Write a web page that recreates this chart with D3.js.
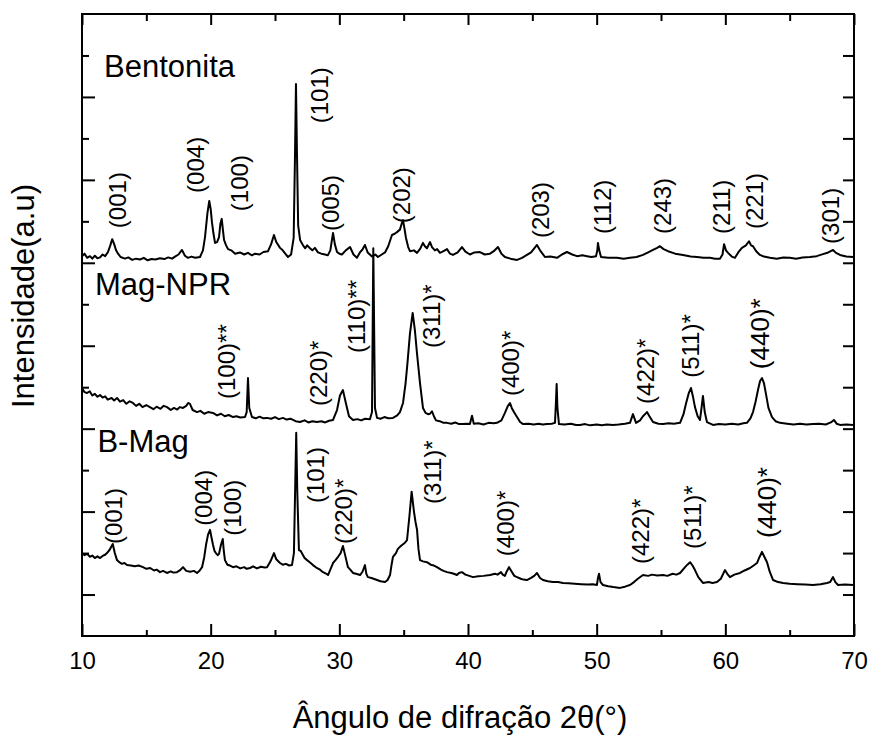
<!DOCTYPE html>
<html>
<head>
<meta charset="utf-8">
<script src="https://cdn.jsdelivr.net/npm/d3@7"></script>
<style>
  body { margin: 0; background: #fff; }
  text { font-family: Arial, "Liberation Sans", sans-serif; fill: #000; }
</style>
</head>
<body>
<div id="chart"></div>
<script>
// 2theta (deg), intensity (a.u., stacked)
const bentonita = [[10.0,9.16],[10.2,9.22],[10.4,9.12],[10.62,9.16],[10.8,9.1],[11.0,9.17],[11.2,9.11],[11.4,9.13],[11.6,9.2],[11.8,9.16],[12.02,9.26],[12.2,9.42],[12.35,9.57],[12.5,9.45],[12.65,9.3],[12.8,9.22],[13.0,9.14],[13.34,9.1],[13.6,9.13],[13.9,9.07],[14.2,9.1],[14.51,9.08],[14.8,9.12],[15.1,9.06],[15.4,9.09],[15.7,9.08],[16.06,9.11],[16.4,9.09],[16.7,9.13],[17.0,9.1],[17.23,9.15],[17.5,9.2],[17.77,9.31],[18.0,9.17],[18.24,9.12],[18.5,9.15],[18.8,9.12],[19.17,9.14],[19.4,9.3],[19.56,9.62],[19.75,10.2],[19.89,10.49],[20.0,10.3],[20.10,9.98],[20.22,9.7],[20.34,9.48],[20.5,9.5],[20.65,9.62],[20.76,9.95],[20.86,10.06],[20.95,9.8],[21.04,9.55],[21.2,9.42],[21.35,9.33],[21.6,9.3],[21.9,9.22],[22.28,9.25],[22.6,9.2],[22.9,9.24],[23.2,9.18],[23.45,9.22],[23.8,9.2],[24.1,9.26],[24.46,9.28],[24.7,9.45],[24.92,9.67],[25.1,9.5],[25.39,9.36],[25.6,9.3],[25.8,9.22],[26.01,9.14],[26.25,9.2],[26.45,9.6],[26.55,11.5],[26.63,13.31],[26.71,11.6],[26.8,9.9],[26.95,9.55],[27.18,9.42],[27.35,9.35],[27.5,9.42],[27.72,9.35],[27.9,9.3],[28.1,9.36],[28.34,9.25],[28.6,9.22],[28.89,9.2],[29.1,9.18],[29.3,9.3],[29.51,9.72],[29.65,9.45],[29.82,9.26],[30.0,9.22],[30.2,9.2],[30.5,9.3],[30.83,9.38],[31.1,9.2],[31.37,9.12],[31.6,9.25],[31.8,9.32],[31.99,9.43],[32.2,9.25],[32.54,9.15],[32.8,9.2],[33.0,9.14],[33.3,9.2],[33.55,9.25],[33.8,9.4],[34.09,9.67],[34.3,9.7],[34.48,9.74],[34.71,9.8],[34.85,9.95],[34.95,10.03],[35.05,9.85],[35.18,9.6],[35.35,9.38],[35.49,9.28],[35.8,9.3],[36.04,9.24],[36.3,9.35],[36.5,9.48],[36.65,9.4],[36.81,9.35],[37.05,9.5],[37.2,9.38],[37.43,9.3],[37.6,9.33],[37.82,9.24],[38.1,9.28],[38.37,9.33],[38.6,9.22],[38.83,9.19],[39.2,9.25],[39.53,9.38],[39.8,9.27],[40.15,9.2],[40.5,9.25],[40.93,9.26],[41.3,9.2],[41.71,9.22],[42.0,9.28],[42.33,9.38],[42.6,9.22],[42.87,9.14],[43.3,9.1],[43.81,9.07],[44.2,9.12],[44.58,9.19],[44.9,9.25],[45.15,9.35],[45.36,9.43],[45.6,9.3],[45.98,9.14],[46.4,9.15],[46.92,9.12],[47.3,9.2],[47.69,9.26],[48.1,9.2],[48.47,9.16],[48.9,9.18],[49.25,9.16],[49.6,9.14],[49.95,9.16],[50.05,9.3],[50.10,9.48],[50.2,9.3],[50.34,9.14],[50.9,9.12],[51.58,9.12],[52.1,9.1],[52.59,9.12],[53.1,9.14],[53.6,9.19],[54.0,9.25],[54.38,9.31],[54.7,9.36],[54.92,9.40],[55.2,9.33],[55.55,9.28],[56.1,9.22],[56.71,9.19],[57.3,9.15],[57.80,9.14],[58.3,9.12],[58.81,9.12],[59.2,9.1],[59.58,9.1],[59.78,9.2],[59.90,9.45],[60.05,9.3],[60.21,9.24],[60.5,9.15],[60.75,9.12],[61.0,9.25],[61.29,9.36],[61.6,9.42],[61.84,9.52],[62.0,9.42],[62.15,9.4],[62.4,9.28],[62.69,9.19],[63.0,9.15],[63.47,9.12],[64.0,9.1],[64.5,9.13],[65.02,9.12],[65.5,9.1],[66.0,9.13],[66.58,9.14],[67.1,9.16],[67.59,9.21],[68.0,9.25],[68.37,9.31],[68.6,9.24],[68.91,9.19],[69.4,9.15],[69.92,9.14]];

const magNPR = [[10.0,5.98],[10.2,5.88],[10.39,5.86],[10.6,5.9],[10.8,5.8],[11.0,5.84],[11.2,5.77],[11.4,5.81],[11.6,5.75],[11.8,5.78],[12.0,5.7],[12.3,5.74],[12.5,5.68],[12.72,5.74],[12.95,5.65],[13.2,5.69],[13.45,5.6],[13.7,5.66],[13.96,5.62],[14.2,5.55],[14.45,5.6],[14.7,5.52],[15.0,5.57],[15.28,5.52],[15.55,5.47],[15.8,5.53],[16.1,5.48],[16.35,5.55],[16.61,5.52],[16.9,5.45],[17.15,5.5],[17.4,5.46],[17.6,5.52],[17.85,5.50],[18.1,5.55],[18.25,5.62],[18.39,5.6],[18.6,5.45],[18.94,5.40],[19.2,5.43],[19.5,5.36],[19.8,5.4],[20.18,5.38],[20.5,5.32],[20.8,5.36],[21.1,5.3],[21.4,5.33],[21.74,5.28],[22.0,5.3],[22.3,5.27],[22.67,5.28],[22.8,5.4],[22.90,6.22],[23.0,5.5],[23.21,5.28],[23.5,5.25],[23.8,5.29],[24.1,5.25],[24.38,5.26],[24.7,5.24],[25.0,5.28],[25.3,5.23],[25.62,5.26],[25.9,5.22],[26.2,5.24],[26.6,5.18],[26.94,5.16],[27.3,5.2],[27.6,5.15],[27.9,5.18],[28.26,5.16],[28.6,5.18],[28.9,5.15],[29.2,5.19],[29.51,5.21],[29.82,5.45],[30.05,5.8],[30.28,5.93],[30.52,5.6],[30.75,5.3],[31.06,5.21],[31.4,5.23],[31.7,5.2],[32.0,5.24],[32.38,5.23],[32.54,5.4],[32.64,9.35],[32.77,5.5],[32.93,5.26],[33.2,5.24],[33.5,5.28],[33.8,5.25],[34.17,5.26],[34.5,5.32],[34.71,5.4],[34.95,5.62],[35.15,6.1],[35.3,6.6],[35.49,7.3],[35.70,7.79],[35.88,7.35],[36.04,6.8],[36.27,6.1],[36.5,5.5],[36.7,5.38],[36.89,5.35],[37.05,5.36],[37.20,5.42],[37.35,5.3],[37.51,5.2],[37.8,5.18],[38.1,5.14],[38.37,5.14],[38.7,5.12],[39.0,5.15],[39.3,5.11],[39.61,5.11],[39.9,5.12],[40.15,5.11],[40.31,5.31],[40.45,5.12],[40.8,5.13],[41.2,5.1],[41.6,5.14],[42.0,5.13],[42.25,5.14],[42.6,5.2],[42.87,5.38],[43.1,5.55],[43.26,5.62],[43.4,5.5],[43.57,5.4],[43.81,5.28],[44.05,5.16],[44.28,5.11],[44.7,5.12],[45.1,5.1],[45.5,5.12],[45.8,5.1],[46.14,5.11],[46.5,5.12],[46.76,5.14],[46.83,5.6],[46.89,6.08],[46.95,5.5],[47.07,5.11],[47.5,5.1],[48.0,5.12],[48.4,5.09],[48.70,5.09],[49.1,5.11],[49.5,5.08],[50.0,5.1],[50.4,5.08],[50.8,5.1],[51.27,5.09],[51.7,5.1],[52.2,5.12],[52.59,5.14],[52.82,5.35],[53.06,5.14],[53.37,5.2],[53.6,5.3],[53.91,5.40],[54.1,5.3],[54.38,5.16],[54.8,5.12],[55.16,5.11],[55.6,5.13],[56.0,5.12],[56.48,5.14],[56.75,5.35],[56.94,5.6],[57.15,5.85],[57.33,5.98],[57.5,5.75],[57.64,5.52],[57.85,5.3],[58.03,5.21],[58.15,5.5],[58.26,5.79],[58.4,5.4],[58.57,5.16],[59.04,5.09],[59.5,5.11],[60.0,5.1],[60.5,5.12],[61.0,5.1],[61.4,5.13],[61.68,5.14],[61.95,5.25],[62.15,5.4],[62.35,5.65],[62.55,5.95],[62.7,6.15],[62.85,6.22],[63.0,6.1],[63.15,5.85],[63.35,5.5],[63.63,5.28],[63.9,5.18],[64.25,5.14],[64.8,5.12],[65.3,5.1],[65.8,5.12],[66.3,5.1],[66.81,5.11],[67.3,5.12],[67.8,5.1],[68.2,5.15],[68.44,5.21],[68.65,5.12],[68.91,5.09],[69.4,5.1],[69.92,5.09]];

const bMag = [[10.0,2.00],[10.2,1.95],[10.4,1.98],[10.62,1.91],[10.8,1.94],[11.0,1.88],[11.2,1.92],[11.4,1.88],[11.6,1.93],[11.8,1.96],[11.94,2.0],[12.15,2.08],[12.39,2.22],[12.55,2.0],[12.72,1.83],[12.9,1.78],[13.1,1.74],[13.3,1.76],[13.50,1.71],[13.8,1.7],[14.1,1.68],[14.4,1.7],[14.74,1.66],[15.0,1.62],[15.3,1.64],[15.6,1.58],[15.8,1.6],[16.06,1.54],[16.3,1.57],[16.6,1.52],[16.9,1.56],[17.1,1.53],[17.38,1.54],[17.6,1.58],[17.85,1.66],[18.1,1.57],[18.4,1.55],[18.7,1.57],[18.94,1.52],[19.15,1.58],[19.33,1.66],[19.5,1.9],[19.64,2.2],[19.8,2.45],[19.95,2.56],[20.05,2.4],[20.18,2.2],[20.3,2.05],[20.41,2.0],[20.55,1.95],[20.65,1.98],[20.8,2.2],[20.94,2.34],[21.02,2.05],[21.11,1.83],[21.3,1.72],[21.5,1.7],[21.74,1.66],[22.0,1.68],[22.3,1.63],[22.6,1.66],[22.8,1.62],[23.06,1.64],[23.3,1.68],[23.6,1.63],[23.9,1.67],[24.2,1.65],[24.38,1.66],[24.65,1.8],[24.92,2.00],[25.1,1.85],[25.39,1.76],[25.6,1.72],[25.85,1.74],[26.1,1.7],[26.32,1.71],[26.47,2.0],[26.57,3.6],[26.65,4.90],[26.73,3.5],[26.86,2.07],[27.0,2.05],[27.18,1.95],[27.3,1.88],[27.49,1.83],[27.7,1.78],[27.95,1.71],[28.2,1.65],[28.5,1.6],[28.73,1.54],[29.0,1.5],[29.12,1.47],[29.3,1.6],[29.51,1.76],[29.7,1.83],[29.90,1.91],[30.1,2.0],[30.28,2.17],[30.45,1.95],[30.67,1.66],[30.85,1.6],[31.06,1.52],[31.3,1.5],[31.61,1.47],[31.8,1.55],[31.99,1.71],[32.1,1.5],[32.22,1.42],[32.5,1.4],[32.93,1.35],[33.2,1.32],[33.55,1.30],[33.75,1.35],[33.94,1.47],[34.05,1.7],[34.17,1.91],[34.4,2.0],[34.55,2.1],[34.71,2.15],[34.9,2.2],[35.1,2.25],[35.26,2.31],[35.45,2.9],[35.62,3.48],[35.8,3.0],[35.92,2.75],[36.04,2.56],[36.15,2.1],[36.27,1.83],[36.5,1.8],[36.81,1.78],[37.1,1.72],[37.35,1.7],[37.59,1.66],[37.9,1.6],[38.1,1.57],[38.37,1.54],[38.7,1.52],[38.9,1.5],[39.14,1.47],[39.3,1.52],[39.53,1.54],[39.8,1.48],[40.1,1.45],[40.39,1.42],[40.8,1.44],[41.2,1.45],[41.71,1.47],[42.1,1.5],[42.3,1.48],[42.56,1.54],[42.7,1.48],[42.87,1.45],[43.0,1.55],[43.19,1.66],[43.4,1.55],[43.6,1.45],[43.81,1.42],[44.1,1.38],[44.3,1.36],[44.58,1.35],[44.9,1.4],[45.15,1.45],[45.36,1.52],[45.6,1.4],[45.83,1.35],[46.2,1.32],[46.6,1.3],[47.0,1.3],[47.38,1.28],[47.8,1.27],[48.3,1.26],[48.8,1.25],[49.3,1.24],[49.7,1.25],[50.02,1.23],[50.1,1.4],[50.18,1.50],[50.3,1.3],[50.49,1.23],[50.9,1.2],[51.3,1.18],[51.81,1.16],[52.2,1.19],[52.59,1.23],[52.9,1.3],[53.2,1.38],[53.6,1.47],[54.0,1.45],[54.3,1.48],[54.7,1.46],[55.16,1.47],[55.5,1.45],[55.9,1.5],[56.2,1.48],[56.48,1.52],[56.65,1.58],[56.87,1.66],[57.05,1.72],[57.26,1.78],[57.45,1.7],[57.64,1.59],[57.9,1.42],[58.26,1.28],[58.7,1.3],[59.0,1.28],[59.35,1.30],[59.65,1.38],[59.97,1.59],[60.15,1.5],[60.36,1.42],[60.7,1.48],[61.14,1.52],[61.5,1.58],[61.92,1.64],[62.2,1.7],[62.46,1.76],[62.65,1.9],[62.85,2.03],[63.05,1.9],[63.24,1.78],[63.45,1.55],[63.71,1.35],[64.1,1.3],[64.49,1.28],[65.0,1.26],[65.6,1.25],[66.2,1.24],[66.81,1.23],[67.4,1.25],[67.90,1.28],[68.15,1.3],[68.37,1.42],[68.55,1.3],[68.76,1.23],[69.3,1.24],[69.92,1.23]];

// sample names: [name, 2theta, intensity]
const sampleNames = [["Bentonita", 11.71, 13.48], ["Mag-NPR", 11.01, 8.22], ["B-Mag", 11.2, 4.44]];

// peak labels: [text, 2theta (center), intensity (bottom of label)]
const bentLabels = [["(001)",12.95,9.86],["(004)",19.02,10.71],["(100)",22.43,10.27],["(101)",28.65,12.39],["(005)",29.51,9.79],["(202)",35.03,9.98],["(203)",45.83,9.62],["(112)",50.65,9.72],["(243)",55.31,9.72],["(211)",59.90,9.72],["(221)",62.46,9.84],["(301)",68.37,9.48]];
const magLabels = [["(100)**",21.42,5.74],["(220)*",28.57,5.57],["(110)**",31.53,6.85],["(311)*",37.36,6.97],["(400)*",43.50,5.81],["(422)*",53.99,5.62],["(511)*",57.49,6.25],["(440)*",62.93,6.46]];
const bMagLabels = [["(001)",12.64,2.24],["(004)",19.64,2.68],["(100)",21.89,2.44],["(101)",28.34,3.23],["(220)*",30.52,2.24],["(311)*",37.43,3.21],["(400)*",43.11,1.95],["(422)*",53.60,1.76],["(511)*",57.64,2.12],["(440)*",63.47,2.39]];

const xMajor = [10, 20, 30, 40, 50, 60, 70];
const xMinor = [15, 25, 35, 45, 55, 65];
const yMajor = [1, 3, 5, 7, 9, 11, 13];
const yMinor = [2, 4, 6, 8, 10, 12, 14];

const width = 869, height = 736;
const mLeft = 82, mRight = 854, mTop = 14, mBottom = 636;

const svg = d3.select("#chart").append("svg")
    .attr("width", width)
    .attr("height", height);

const x = d3.scaleLinear().domain([10, 70]).range([mLeft, mRight]);
const y = d3.scaleLinear().domain([0, 15]).range([mBottom, mTop]);

function styleAxis(g, fontSize) {
    g.select(".domain").remove();
    g.selectAll(".tick line").attr("stroke", "#000").attr("stroke-width", 2);
    g.selectAll(".tick text").attr("font-size", fontSize).attr("fill", "#000")
        .attr("font-family", "Arial, 'Liberation Sans', sans-serif");
}

// bottom
svg.append("g").attr("transform", `translate(0,${mBottom})`)
    .call(d3.axisBottom(x).tickValues(xMajor).tickSize(-12).tickPadding(16).tickFormat(d3.format("d")))
    .call(g => styleAxis(g, 24));
svg.append("g").attr("transform", `translate(0,${mBottom})`)
    .call(d3.axisBottom(x).tickValues(xMinor).tickSize(-6).tickFormat(""))
    .call(g => styleAxis(g, 0));
// top
svg.append("g").attr("transform", `translate(0,${mTop})`)
    .call(d3.axisTop(x).tickValues(xMajor).tickSize(-11).tickFormat(""))
    .call(g => styleAxis(g, 0));
svg.append("g").attr("transform", `translate(0,${mTop})`)
    .call(d3.axisTop(x).tickValues(xMinor).tickSize(-7).tickFormat(""))
    .call(g => styleAxis(g, 0));
// left
svg.append("g").attr("transform", `translate(${mLeft},0)`)
    .call(d3.axisLeft(y).tickValues(yMajor).tickSize(-13).tickFormat(""))
    .call(g => styleAxis(g, 0));
svg.append("g").attr("transform", `translate(${mLeft},0)`)
    .call(d3.axisLeft(y).tickValues(yMinor).tickSize(-7).tickFormat(""))
    .call(g => styleAxis(g, 0));
// right
svg.append("g").attr("transform", `translate(${mRight},0)`)
    .call(d3.axisRight(y).tickValues(yMajor.concat(yMinor)).tickSize(-11).tickFormat(""))
    .call(g => styleAxis(g, 0));

// frame
svg.append("rect")
    .attr("x", mLeft).attr("y", mTop)
    .attr("width", mRight - mLeft).attr("height", mBottom - mTop)
    .attr("fill", "none").attr("stroke", "#000").attr("stroke-width", 2);

// traces
const line = d3.line().x(d => x(d[0])).y(d => y(d[1]));
[bentonita, magNPR, bMag].forEach(series => {
    svg.append("path")
        .datum(series)
        .attr("d", line)
        .attr("fill", "none")
        .attr("stroke", "#000")
        .attr("stroke-width", 2)
        .attr("stroke-linejoin", "round");
});

// sample names
svg.selectAll(".sample").data(sampleNames).enter()
    .append("text")
    .attr("class", "sample")
    .attr("x", d => x(d[1]))
    .attr("y", d => y(d[2]))
    .attr("font-size", 31)
    .text(d => d[0]);

// peak labels (rotated)
svg.selectAll(".peak").data(bentLabels.concat(magLabels, bMagLabels)).enter()
    .append("text")
    .attr("class", "peak")
    .attr("transform", d => `translate(${x(d[1]) + 6},${y(d[2]) + 1}) rotate(-90)`)
    .attr("font-size", d => d[0].startsWith("(440)") ? 26 : 24)
    .text(d => d[0]);

// axis titles
svg.append("text")
    .attr("x", 460)
    .attr("y", 728)
    .attr("text-anchor", "middle")
    .attr("font-size", 31)
    .text("Ângulo de difração 2θ(°)");

svg.append("text")
    .attr("transform", "translate(34,296) rotate(-90)")
    .attr("text-anchor", "middle")
    .attr("font-size", 31)
    .text("Intensidade(a.u)");
</script>
</body>
</html>
